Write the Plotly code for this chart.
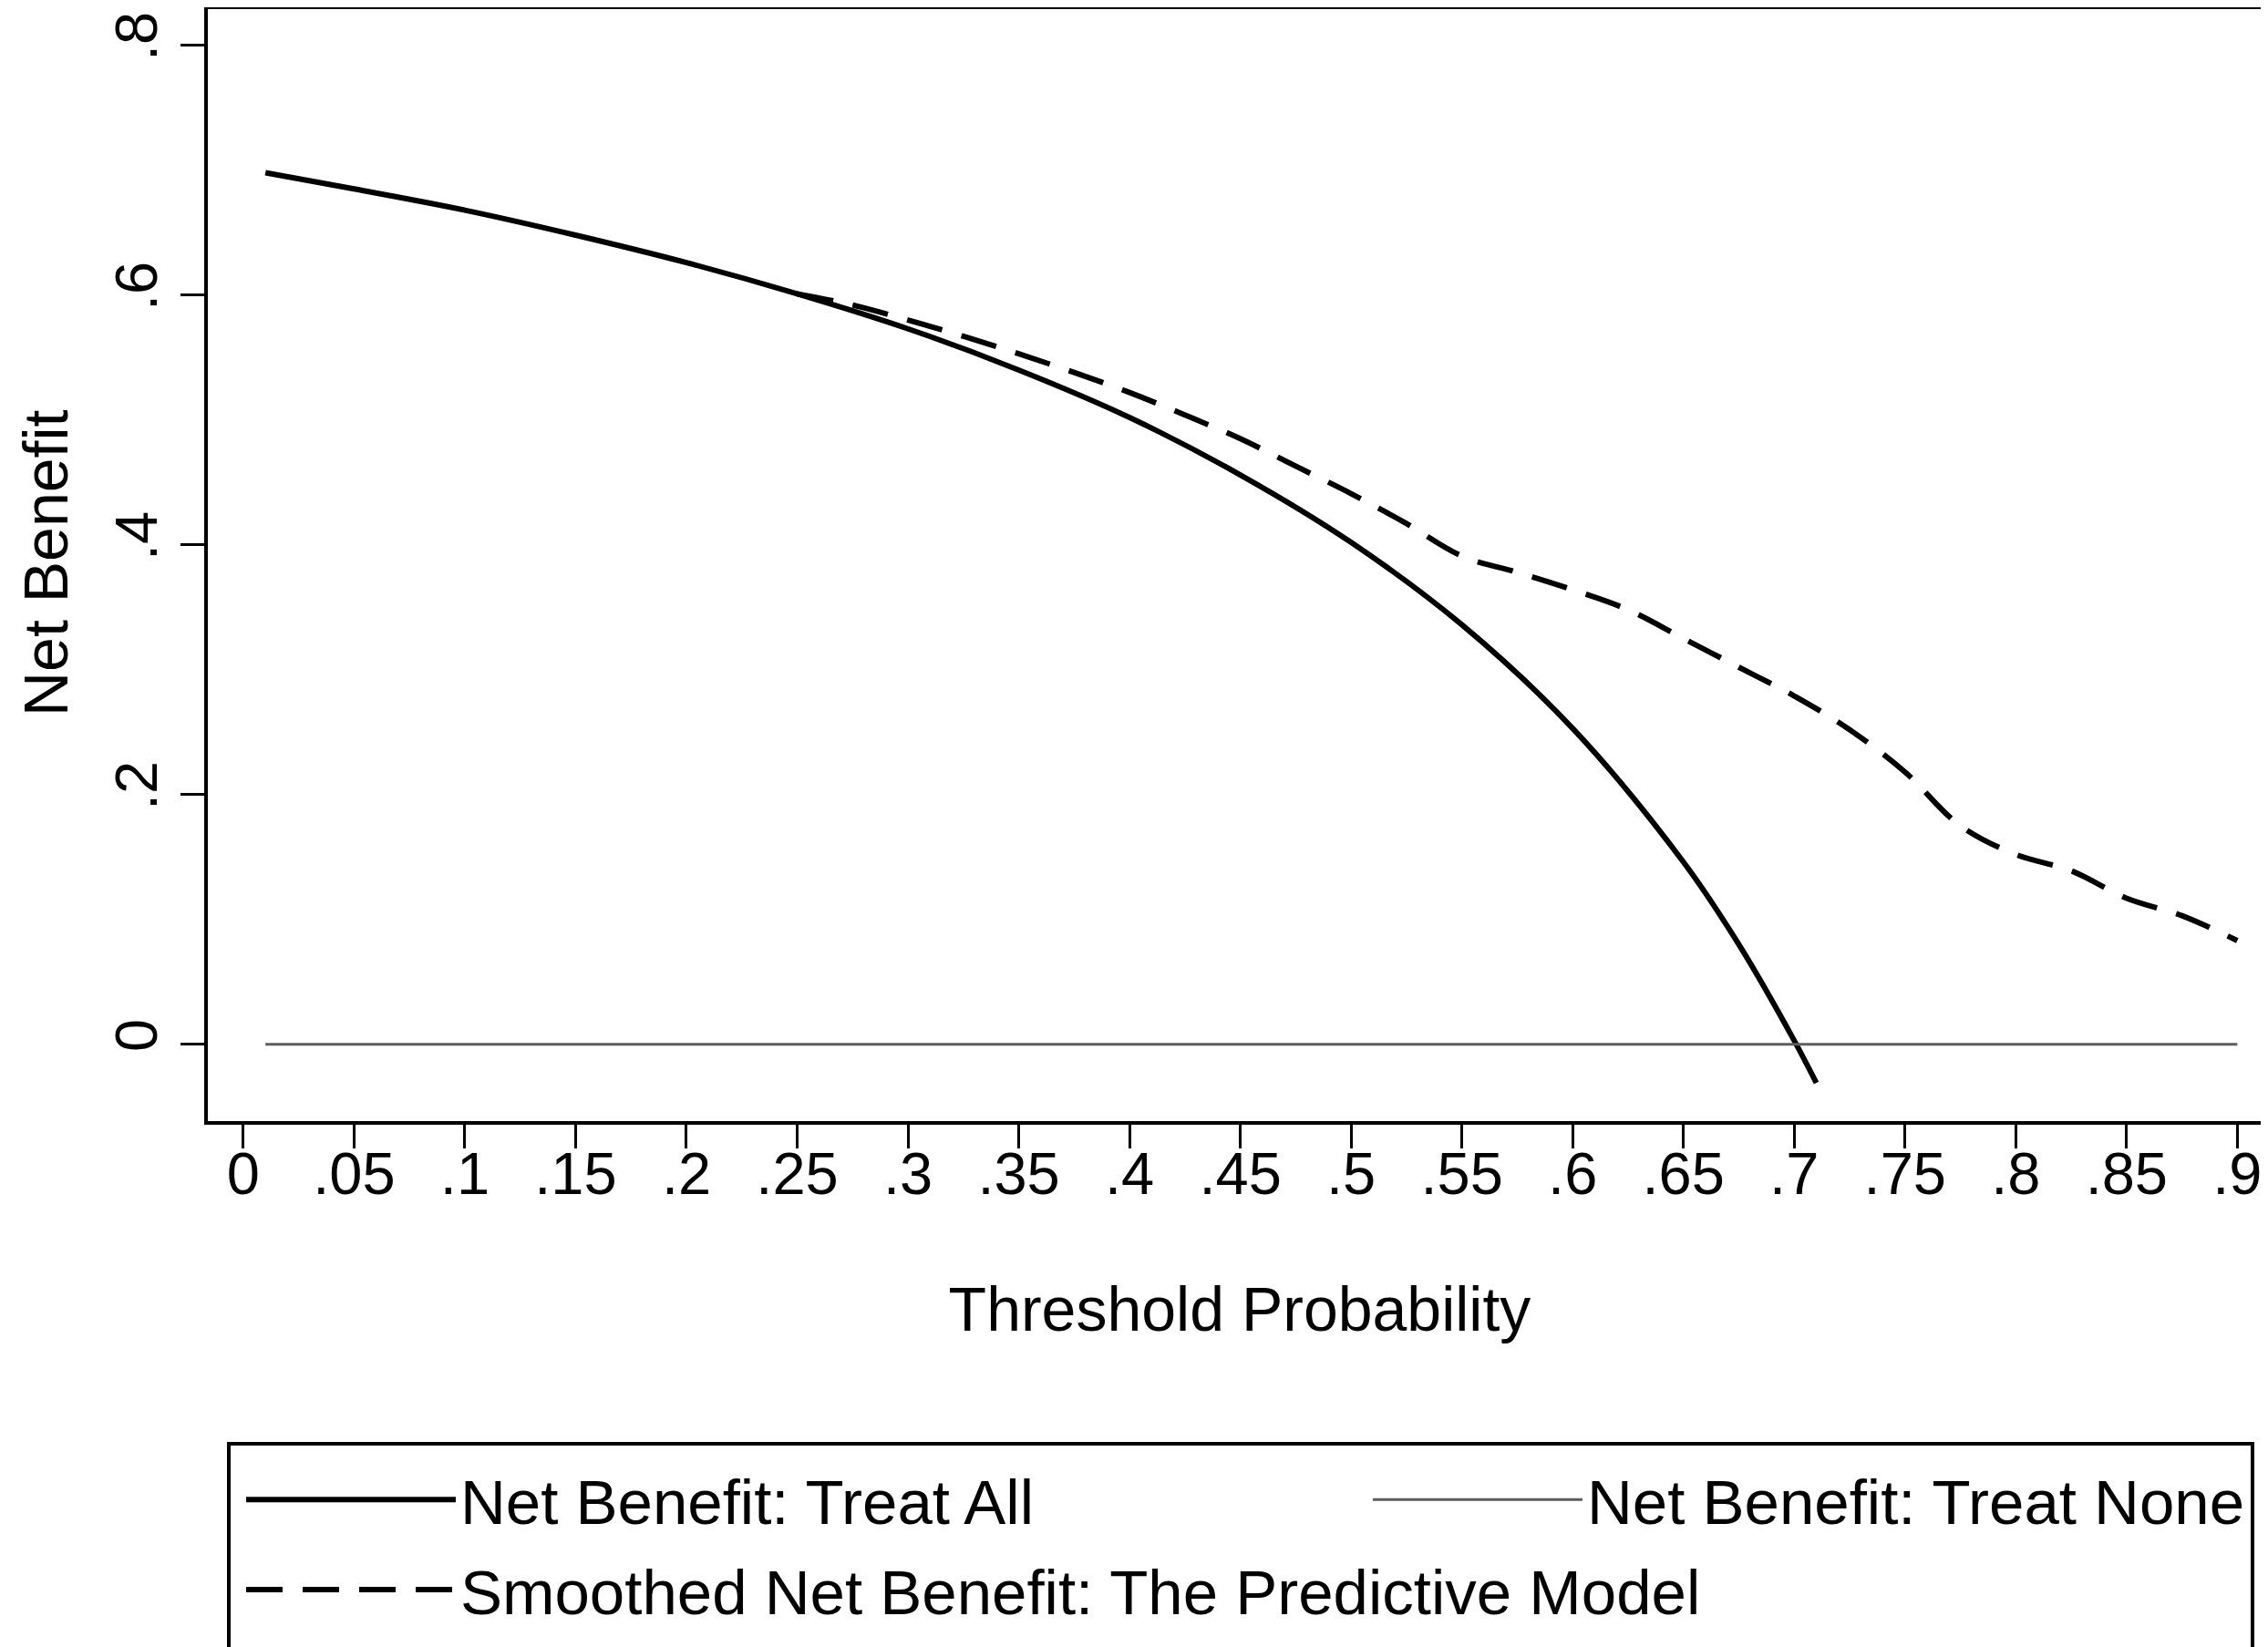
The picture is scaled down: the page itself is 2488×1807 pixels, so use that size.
import plotly.graph_objects as go

# ---- data ----
pt_all = [0.01, 0.05, 0.10, 0.15, 0.20, 0.25, 0.30, 0.35, 0.40, 0.45, 0.50,
          0.55, 0.60, 0.65, 0.675, 0.70, 0.71]
nb_all = [0.698, 0.685, 0.668, 0.648, 0.626, 0.601, 0.573, 0.540, 0.502, 0.456,
          0.402, 0.336, 0.253, 0.146, 0.080, 0.003, -0.031]

pt_none = [0.01, 0.90]
nb_none = [0.0, 0.0]

pt_model = [0.25, 0.275, 0.30, 0.325, 0.35, 0.375, 0.40, 0.425, 0.45, 0.475, 0.50,
            0.525, 0.55, 0.575, 0.60, 0.625, 0.65, 0.675, 0.70, 0.725, 0.75,
            0.775, 0.80, 0.825, 0.85, 0.875, 0.90]
nb_model = [0.601, 0.592, 0.580, 0.567, 0.553, 0.538, 0.522, 0.504, 0.485, 0.463, 0.441,
            0.417, 0.391, 0.378, 0.364, 0.348, 0.325, 0.302, 0.279, 0.252, 0.218,
            0.175, 0.152, 0.139, 0.117, 0.103, 0.083]

x_tickvals = [0, .05, .1, .15, .2, .25, .3, .35, .4, .45, .5, .55, .6, .65, .7, .75, .8, .85, .9]
x_ticktext = ["0", ".05", ".1", ".15", ".2", ".25", ".3", ".35", ".4", ".45", ".5",
              ".55", ".6", ".65", ".7", ".75", ".8", ".85", ".9"]
y_tickvals = [0, .2, .4, .6, .8]
y_ticktext = ["0", ".2", ".4", ".6", ".8"]

x_title = "Threshold Probability"
y_title = "Net Benefit"

FONT = "Liberation Sans, Arial, Helvetica, sans-serif"

fig = go.Figure()
fig.add_trace(go.Scatter(x=pt_all, y=nb_all, mode="lines", name="Net Benefit: Treat All",
                         legend="legend", legendgroup="a",
                         line=dict(color="black", width=6, shape="spline")))
fig.add_trace(go.Scatter(x=pt_none, y=nb_none, mode="lines", name="Net Benefit: Treat None",
                         legend="legend2",
                         line=dict(color="#5e5e5e", width=3)))
fig.add_trace(go.Scatter(x=pt_model, y=nb_model, mode="lines",
                         name="Smoothed Net Benefit: The Predictive Model",
                         legend="legend", legendgroup="b",
                         line=dict(color="black", width=6, dash="40px,22px", shape="spline")))

W, H = 2488, 1807
ml, mr, mt, mb = 220, 4, 2, 585
plot_h = H - mt - mb

def py(pix):
    return (H - mb - pix) / plot_h

def px(pix):
    return (pix - ml) / (W - ml - mr)

leg_common = dict(orientation="v", xanchor="left", yanchor="top",
                  font=dict(size=69, family=FONT), itemwidth=230,
                  bgcolor="rgba(0,0,0,0)", borderwidth=0, tracegroupgap=6)

fig.update_layout(
    width=W, height=H,
    margin=dict(l=ml, r=mr, t=mt, b=mb, autoexpand=False),
    paper_bgcolor="white", plot_bgcolor="white",
    font=dict(family=FONT, color="black", size=65),
    showlegend=True,
    legend=dict(x=px(257), y=py(1586), **leg_common),
    legend2=dict(x=px(1493), y=py(1586), **leg_common),
    shapes=[dict(type="rect", xref="paper", yref="paper",
                 x0=px(243), x1=px(2463), y0=py(1805), y1=py(1576),
                 line=dict(color="black", width=4), fillcolor="rgba(0,0,0,0)")],
    annotations=[dict(text=y_title, xref="paper", yref="paper", x=px(42), y=py(610),
                      xanchor="center", yanchor="middle", textangle=-90, showarrow=False,
                      font=dict(size=68, family=FONT, color="black"))],
)

fig.update_xaxes(
    range=[-0.016, 0.9155], tickmode="array", tickvals=x_tickvals, ticktext=x_ticktext,
    showgrid=False, zeroline=False, showline=True, mirror=True, linecolor="black", linewidth=4,
    ticks="outside", ticklen=26, tickwidth=3, tickcolor="black", automargin=True,
    tickfont=dict(size=65, family=FONT), ticklabelstandoff=-28,
    title=dict(text=x_title, font=dict(size=68, family=FONT), standoff=90),
)
fig.update_yaxes(
    range=[-0.0615, 0.829], tickmode="array", tickvals=y_tickvals, ticktext=y_ticktext,
    showgrid=False, zeroline=False, showline=True, mirror=True, linecolor="black", linewidth=4,
    ticks="outside", ticklen=26, tickwidth=3, tickcolor="black", tickangle=-90,
    tickfont=dict(size=65, family=FONT),
)

fig.write_html("out.html")
